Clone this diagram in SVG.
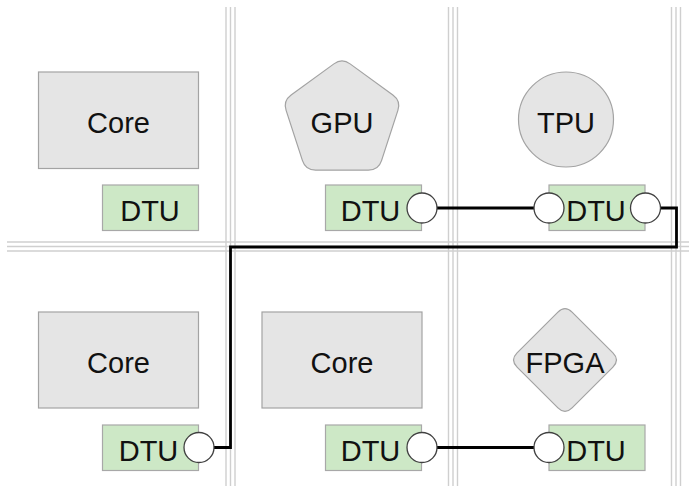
<svg xmlns="http://www.w3.org/2000/svg" width="689" height="486" viewBox="0 0 689 486">
<style>
.grid line{stroke:#cfcfcf;stroke-width:1.4}
.proc{fill:#e5e5e5;stroke:#a3a3a3;stroke-width:1.2}
.dtu{fill:#cde8c6;stroke:#a8a8a8;stroke-width:1.2}
.port{fill:#ffffff;stroke:#404040;stroke-width:1.3}
.wire{fill:none;stroke:#000;stroke-width:2.8;stroke-linejoin:miter}
text{font-family:"Liberation Sans",Arial,sans-serif;font-size:29px;fill:#111;text-anchor:middle}
</style>
<rect width="689" height="486" fill="#fff"/>
<g id="grid" class="grid">
<line x1="226" y1="7" x2="226" y2="486"/><line x1="230.5" y1="7" x2="230.5" y2="486"/><line x1="235" y1="7" x2="235" y2="486"/>
<line x1="448.5" y1="7" x2="448.5" y2="486"/><line x1="453" y1="7" x2="453" y2="486"/><line x1="457.5" y1="7" x2="457.5" y2="486"/>
<line x1="671.5" y1="7" x2="671.5" y2="486"/><line x1="676" y1="7" x2="676" y2="486"/><line x1="680.5" y1="7" x2="680.5" y2="486"/>
<line x1="7" y1="242" x2="689" y2="242"/><line x1="7" y1="246.5" x2="689" y2="246.5"/><line x1="7" y1="251" x2="689" y2="251"/>
</g>
<g id="core00"><rect class="proc" x="38.5" y="72" width="160" height="96.5"/><text x="118.5" y="132.5">Core</text></g>
<g id="gpu"><path class="proc" d="M 350.09,63.88 L 392.88,94.96 Q 400.97,100.84 397.88,110.35 L 381.53,160.65 Q 378.44,170.16 368.44,170.16 L 315.56,170.16 Q 305.56,170.16 302.47,160.65 L 286.12,110.35 Q 283.03,100.84 291.12,94.96 L 333.91,63.88 Q 342,58 350.09,63.88 Z"/><text x="342" y="132.5">GPU</text></g>
<g id="tpu"><circle class="proc" cx="566" cy="119.5" r="47.5"/><text x="566" y="132.5">TPU</text></g>
<g id="core01"><rect class="proc" x="38.5" y="312" width="160" height="96"/><text x="118.5" y="372.5">Core</text></g>
<g id="core11"><rect class="proc" x="262" y="312" width="160" height="96"/><text x="342" y="372.5">Core</text></g>
<g id="fpga"><path class="proc" d="M 572.07,312.07 L 612.93,352.93 Q 620,360 612.93,367.07 L 572.07,407.93 Q 565,415 557.93,407.93 L 517.07,367.07 Q 510,360 517.07,352.93 L 557.93,312.07 Q 565,305 572.07,312.07 Z"/><text x="565" y="372.5">FPGA</text></g>
<g id="connectors">
<path class="wire" d="M 437,208 H 534"/>
<path class="wire" d="M 660.5,208 H 676.5 V 247 H 230.5 V 447.5 H 214"/>
<path class="wire" d="M 437,447.5 H 534"/>
</g>
<g id="dtu00"><rect class="dtu" x="102.5" y="185" width="96" height="45.5"/><text x="150" y="220.5">DTU</text></g>
<g id="dtu10"><rect class="dtu" x="325.5" y="185" width="96" height="45.5"/><text x="370.5" y="220.5">DTU</text><circle class="port" cx="422" cy="208" r="15"/></g>
<g id="dtu20"><rect class="dtu" x="549" y="185" width="96" height="45.5"/><text x="596" y="220.5">DTU</text><circle class="port" cx="549" cy="208" r="15"/><circle class="port" cx="645.5" cy="208" r="15"/></g>
<g id="dtu01"><rect class="dtu" x="102.5" y="425" width="96" height="45.5"/><text x="148.5" y="460.5">DTU</text><circle class="port" cx="199" cy="447.5" r="15"/></g>
<g id="dtu11"><rect class="dtu" x="325.5" y="425" width="96" height="45.5"/><text x="370.5" y="460.5">DTU</text><circle class="port" cx="422" cy="447.5" r="15"/></g>
<g id="dtu21"><rect class="dtu" x="549" y="425" width="96" height="45.5"/><text x="596" y="460.5">DTU</text><circle class="port" cx="549" cy="447.5" r="15"/></g>
</svg>
